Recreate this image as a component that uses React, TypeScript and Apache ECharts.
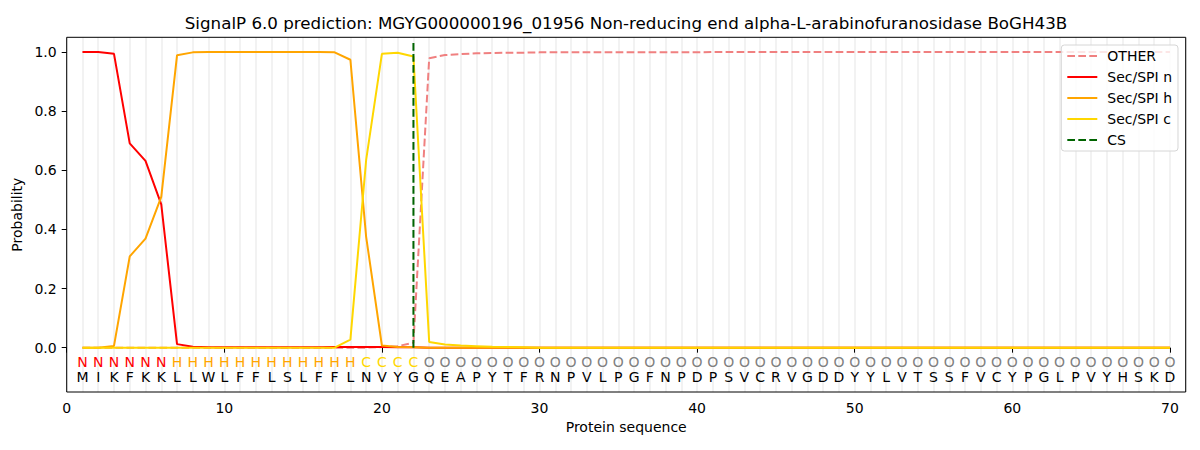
import React, { useEffect, useRef } from "react";
import * as echarts from "echarts";

const titleText =
  "SignalP 6.0 prediction: MGYG000000196_01956 Non-reducing end alpha-L-arabinofuranosidase BoGH43B";

const residues = "MIKFKKLLWLFFLSLFFLNVYGQEAPYTFRNPVLPGFNPDPSVCRVGDDYYLVTSSFVCYPGLPVYHSKD".split("");
const regionLabels = (
  "NNNNNN" + "HHHHHHHHHHHH" + "CCCC" + "OOOOOOOOOOOOOOOOOOOOOOOOOOOOOOOOOOOOOOOOOOOOOOOO"
).split("");

const positions = residues.map((_, i) => i + 1);

const otherProb = [
  0, 0, 0, 0, 0, 0, 0, 0, 0, 0, 0, 0, 0, 0, 0, 0, 0, 0, 0,
  0.002, 0.005, 0.017,
  0.979, 0.99, 0.993, 0.996, 0.997, 0.998, 0.998, 0.999,
  0.999, 0.999, 0.999, 0.999, 0.999, 0.999, 0.999, 0.999, 0.999, 0.999,
  1, 1, 1, 1, 1, 1, 1, 1, 1, 1,
  1, 1, 1, 1, 1, 1, 1, 1, 1, 1,
  1, 1, 1, 1, 1, 1, 1, 1, 1, 1,
];

const nProb = [
  1.0, 1.0, 0.994, 0.691, 0.632, 0.485, 0.012, 0.003,
  0.001, 0.001, 0.001, 0.001, 0.001, 0.001, 0.001, 0.001,
  0.002, 0.002, 0.002, 0.002, 0.001, 0.001,
  0, 0, 0, 0, 0, 0, 0, 0, 0, 0, 0, 0, 0, 0, 0, 0, 0, 0, 0, 0, 0, 0, 0, 0,
  0, 0, 0, 0, 0, 0, 0, 0, 0, 0, 0, 0, 0, 0, 0, 0, 0, 0, 0, 0, 0, 0, 0, 0,
];

const hProb = [
  0, 0, 0.006, 0.309, 0.369, 0.51, 0.989, 0.999,
  1, 1, 1, 1, 1, 1, 1, 1,
  0.999, 0.974, 0.375, 0.007, 0.002, 0.001,
  0, 0, 0, 0, 0, 0, 0, 0, 0, 0, 0, 0, 0, 0, 0, 0, 0, 0, 0, 0, 0, 0, 0, 0,
  0, 0, 0, 0, 0, 0, 0, 0, 0, 0, 0, 0, 0, 0, 0, 0, 0, 0, 0, 0, 0, 0, 0, 0,
];

const cProb = [
  0, 0, 0, 0, 0, 0, 0, 0, 0, 0, 0, 0, 0, 0, 0, 0, 0,
  0.027, 0.635, 0.994, 0.998, 0.985,
  0.019, 0.011, 0.007, 0.005, 0.003, 0.002, 0.001,
  0, 0, 0, 0, 0, 0, 0, 0, 0, 0, 0, 0, 0, 0, 0, 0, 0, 0, 0, 0, 0,
  0, 0, 0, 0, 0, 0, 0, 0, 0, 0, 0, 0, 0, 0, 0, 0, 0, 0, 0, 0,
];

const cleavageSite = 22;
const csLineTop = 1.035;

const xTicks = [0, 10, 20, 30, 40, 50, 60, 70];
const yTicks = [0, 0.2, 0.4, 0.6, 0.8, 1.0];

const regionRowY = -0.047;
const residueRowY = -0.1;

const FONT = "DejaVu Sans";

const regionColors: Record<string, string> = {
  N: "#ff0000",
  H: "#ffa500",
  C: "#ffd700",
  O: "#808080",
};

const App: React.FC = () => {
  const ref = useRef<HTMLDivElement>(null);

  useEffect(() => {
    document.body.style.margin = "0";
    if (!ref.current) return;
    const chart = echarts.init(ref.current, null, { renderer: "svg" });

    const pairs = (vals: number[]) => positions.map((x, i) => [x, vals[i]]);
    const dash = [7.7, 3.3];

    const option: any = {
      animation: false,
      backgroundColor: "#ffffff",
      textStyle: { fontFamily: FONT },
      grid: {
        left: 66.7,
        right: 14.3,
        top: 37.3,
        bottom: 58,
        show: true,
        borderColor: "#000000",
        borderWidth: 1,
        backgroundColor: "transparent",
        z: 10,
      },
      graphic: [
        {
          type: "text",
          x: 626,
          y: 23,
          style: {
            text: titleText,
            textAlign: "center",
            textVerticalAlign: "middle",
            font: `16.7px '${FONT}'`,
            fill: "#000000",
          },
        },
      ],
      legend: {
        data: ["OTHER", "Sec/SPI n", "Sec/SPI h", "Sec/SPI c", "CS"],
        orient: "vertical",
        right: 22,
        top: 45,
        itemWidth: 30,
        itemHeight: 14,
        itemGap: 7,
        padding: [4, 6, 4, 5],
        borderColor: "#d6d6d6",
        borderWidth: 1,
        borderRadius: 3,
        backgroundColor: "rgba(255,255,255,0.8)",
        itemStyle: { opacity: 0 },
        textStyle: { fontSize: 14, fontFamily: FONT, color: "#000", padding: [0, 0, 0, 5] },
        z: 20,
      },
      xAxis: [
        {
          type: "value",
          min: 0,
          max: 71,
          interval: 10,
          name: "Protein sequence",
          nameLocation: "middle",
          nameGap: 28,
          nameTextStyle: { fontSize: 14, fontFamily: FONT, color: "#000" },
          axisLine: { show: false },
          axisTick: { show: true, length: 5, customValues: xTicks, lineStyle: { color: "#000" } },
          axisLabel: {
            customValues: xTicks,
            fontSize: 14,
            fontFamily: FONT,
            color: "#000",
            margin: 9,
          },
          splitLine: { show: false },
        },
        {
          type: "value",
          min: 0,
          max: 71,
          interval: 1,
          position: "bottom",
          axisLine: { show: false },
          axisTick: { show: false },
          axisLabel: { show: false },
          splitLine: { show: true, lineStyle: { color: "#f2f2f2", width: 2 } },
        },
      ],
      yAxis: {
        type: "value",
        min: -0.15,
        max: 1.05,
        interval: 0.2,
        name: "Probability",
        nameLocation: "middle",
        nameGap: 35,
        nameTextStyle: { fontSize: 14, fontFamily: FONT, color: "#000" },
        axisLine: { show: false },
        axisTick: { show: true, length: 5, customValues: yTicks, lineStyle: { color: "#000" } },
        axisLabel: {
          customValues: yTicks,
          fontSize: 14,
          fontFamily: FONT,
          color: "#000",
          margin: 10,
          formatter: (v: number) => v.toFixed(1),
        },
        splitLine: { show: false },
      },
      series: [
        {
          name: "OTHER",
          type: "line",
          data: pairs(otherProb),
          symbol: "none",
          showSymbol: false,
          lineStyle: { color: "#f08080", width: 2, type: dash },
          itemStyle: { color: "#f08080" },
          z: 3,
        },
        {
          name: "Sec/SPI n",
          type: "line",
          data: pairs(nProb),
          symbol: "none",
          showSymbol: false,
          lineStyle: { color: "#ff0000", width: 2 },
          itemStyle: { color: "#ff0000" },
          z: 4,
        },
        {
          name: "Sec/SPI h",
          type: "line",
          data: pairs(hProb),
          symbol: "none",
          showSymbol: false,
          lineStyle: { color: "#ffa500", width: 2 },
          itemStyle: { color: "#ffa500" },
          z: 5,
        },
        {
          name: "Sec/SPI c",
          type: "line",
          data: pairs(cProb),
          symbol: "none",
          showSymbol: false,
          lineStyle: { color: "#ffd700", width: 2 },
          itemStyle: { color: "#ffd700" },
          z: 6,
        },
        {
          name: "CS",
          type: "line",
          data: [
            [cleavageSite, 0],
            [cleavageSite, csLineTop],
          ],
          symbol: "none",
          showSymbol: false,
          lineStyle: { color: "#006400", width: 2, type: dash },
          itemStyle: { color: "#006400" },
          z: 7,
        },
        {
          name: "regions",
          type: "scatter",
          silent: true,
          symbol: "circle",
          symbolSize: 1,
          itemStyle: { color: "transparent", opacity: 1 },
          data: positions.map((x, i) => ({
            name: regionLabels[i],
            value: [x, regionRowY],
            label: { color: regionColors[regionLabels[i]] },
          })),
          label: {
            show: true,
            position: "inside",
            formatter: "{b}",
            fontSize: 14,
            fontFamily: FONT,
          },
          z: 8,
        },
        {
          name: "residues",
          type: "scatter",
          silent: true,
          symbol: "circle",
          symbolSize: 1,
          itemStyle: { color: "transparent", opacity: 1 },
          data: positions.map((x, i) => ({
            name: residues[i],
            value: [x, residueRowY],
          })),
          label: {
            show: true,
            position: "inside",
            formatter: "{b}",
            fontSize: 14,
            fontFamily: FONT,
            color: "#000",
          },
          z: 8,
        },
      ],
    };

    chart.setOption(option);
    return () => {
      chart.dispose();
    };
  }, []);

  return <div ref={ref} style={{ width: 1200, height: 450 }} />;
};

export default App;
